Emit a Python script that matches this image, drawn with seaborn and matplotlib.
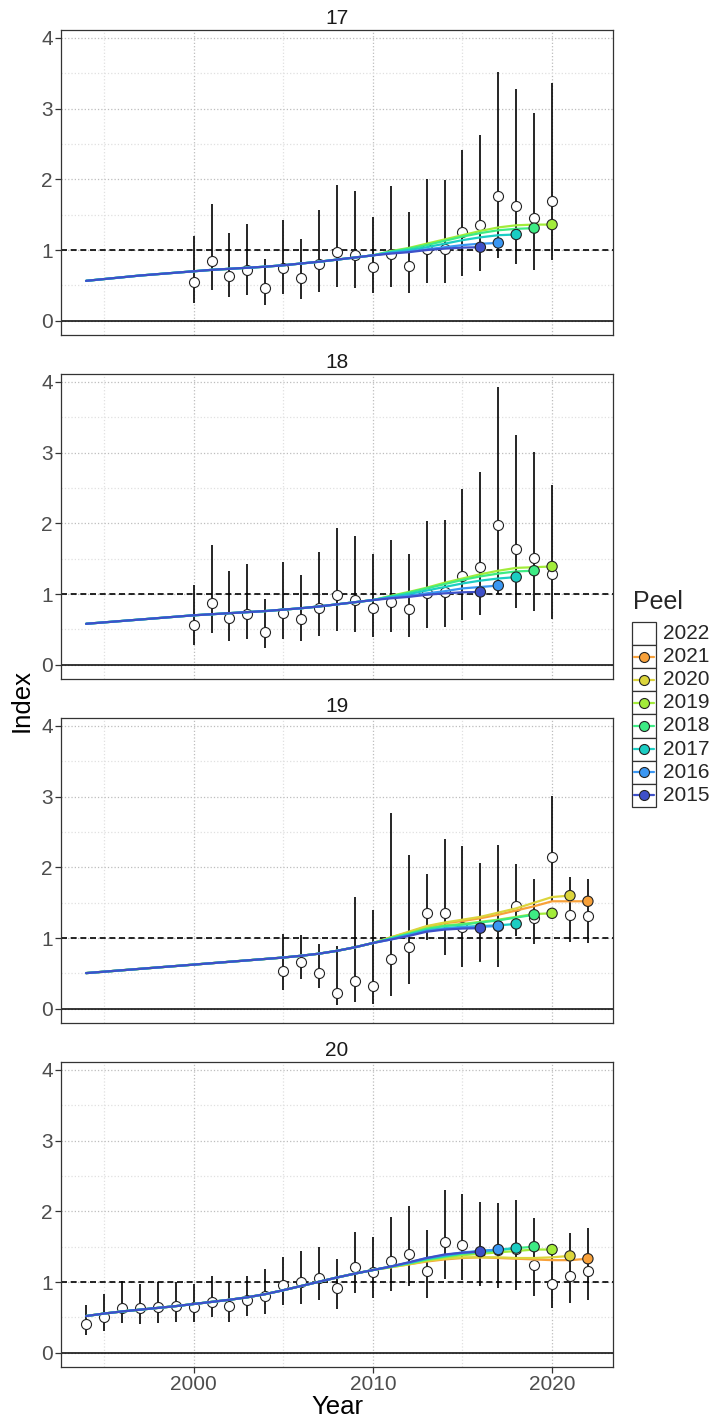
import numpy as np
import pandas as pd
import matplotlib
matplotlib.use("Agg")
import matplotlib.pyplot as plt
from matplotlib.patches import Rectangle
from matplotlib.lines import Line2D
import seaborn as sns

# ---------------------------------------------------------------
# Data
# ---------------------------------------------------------------
panels = ["17", "18", "19", "20"]
peels = [2022, 2021, 2020, 2019, 2018, 2017, 2016, 2015]
peel_colors = ["#FFFFFF", "#F8A13A", "#DCD53C", "#A2EC3A",
               "#3DEB84", "#1BCDC3", "#3A97F3", "#3E50C8"]

# observed index with confidence limits
obs_years_17 = list(range(2000, 2021))
obs_17 = [0.55, 0.85, 0.64, 0.72, 0.46, 0.74, 0.60, 0.80, 0.97, 0.93, 0.76,
          0.94, 0.78, 1.02, 1.02, 1.25, 1.36, 1.77, 1.62, 1.46, 1.69]
lo_17 = [0.245, 0.44, 0.33, 0.37, 0.23, 0.38, 0.31, 0.41, 0.48, 0.47, 0.39,
         0.48, 0.39, 0.53, 0.53, 0.64, 0.70, 0.89, 0.80, 0.72, 0.86]
hi_17 = [1.20, 1.65, 1.24, 1.37, 0.88, 1.43, 1.15, 1.56, 1.92, 1.84, 1.47,
         1.90, 1.54, 2.01, 1.99, 2.41, 2.63, 3.52, 3.28, 2.94, 3.36]

obs_years_18 = list(range(2000, 2021))
obs_18 = [0.56, 0.87, 0.66, 0.72, 0.47, 0.73, 0.65, 0.80, 0.98, 0.91, 0.80,
          0.89, 0.79, 1.02, 1.03, 1.26, 1.38, 1.97, 1.63, 1.51, 1.28]
lo_18 = [0.28, 0.45, 0.34, 0.36, 0.24, 0.37, 0.33, 0.41, 0.48, 0.46, 0.40,
         0.46, 0.40, 0.52, 0.53, 0.64, 0.70, 1.00, 0.81, 0.76, 0.65]
hi_18 = [1.13, 1.70, 1.32, 1.42, 0.93, 1.45, 1.27, 1.60, 1.94, 1.82, 1.57,
         1.77, 1.56, 2.03, 2.05, 2.48, 2.72, 3.92, 3.25, 3.01, 2.54]

obs_years_19 = list(range(2005, 2023))
obs_19 = [0.53, 0.66, 0.51, 0.22, 0.40, 0.32, 0.70, 0.87, 1.35, 1.35, 1.16,
          1.15, 1.17, 1.46, 1.29, 2.14, 1.33, 1.31]
lo_19 = [0.27, 0.42, 0.30, 0.06, 0.09, 0.07, 0.18, 0.35, 0.97, 0.76, 0.59,
         0.66, 0.59, 1.03, 0.92, 1.52, 0.94, 0.93]
hi_19 = [1.06, 1.04, 0.91, 0.89, 1.58, 1.40, 2.77, 2.18, 1.90, 2.40, 2.30,
         2.06, 2.31, 2.04, 1.83, 3.01, 1.87, 1.84]

obs_years_20 = list(range(1994, 2023))
obs_20 = [0.41, 0.51, 0.64, 0.63, 0.65, 0.66, 0.65, 0.72, 0.66, 0.75, 0.81,
          0.96, 1.00, 1.06, 0.91, 1.21, 1.14, 1.30, 1.40, 1.16, 1.56, 1.52,
          1.43, 1.45, 1.47, 1.24, 0.98, 1.09, 1.15]
lo_20 = [0.25, 0.31, 0.42, 0.41, 0.42, 0.44, 0.43, 0.50, 0.44, 0.52, 0.55,
         0.67, 0.69, 0.75, 0.62, 0.85, 0.78, 0.88, 0.94, 0.78, 1.05, 1.03,
         0.94, 0.92, 0.89, 0.80, 0.64, 0.71, 0.75]
hi_20 = [0.67, 0.83, 1.01, 0.98, 1.00, 1.00, 0.97, 1.08, 0.99, 1.08, 1.18,
         1.36, 1.44, 1.50, 1.32, 1.71, 1.64, 1.92, 2.07, 1.74, 2.30, 2.25,
         2.13, 2.12, 2.16, 1.90, 1.47, 1.69, 1.76]

# fitted trend: common part 1994-2010, then one tail per peel from 2011
fit_start = 1994
base_17 = [0.565, 0.59, 0.615, 0.64, 0.66, 0.68, 0.70, 0.72, 0.735, 0.75,
           0.765, 0.785, 0.81, 0.835, 0.865, 0.895, 0.925]
tail_17 = {
    2019: [0.985, 1.03, 1.09, 1.15, 1.21, 1.27, 1.32, 1.35, 1.36, 1.36],
    2018: [0.98, 1.02, 1.07, 1.13, 1.19, 1.24, 1.28, 1.30, 1.31],
    2017: [0.97, 1.00, 1.04, 1.09, 1.14, 1.18, 1.21, 1.22],
    2016: [0.96, 0.98, 1.01, 1.04, 1.07, 1.09, 1.10],
    2015: [0.95, 0.97, 1.00, 1.02, 1.035, 1.04],
}
base_18 = [0.58, 0.60, 0.62, 0.64, 0.66, 0.68, 0.70, 0.715, 0.73, 0.745,
           0.76, 0.78, 0.80, 0.825, 0.855, 0.885, 0.915]
tail_18 = {
    2019: [0.975, 1.03, 1.09, 1.16, 1.22, 1.28, 1.33, 1.37, 1.38, 1.39],
    2018: [0.97, 1.02, 1.08, 1.14, 1.20, 1.25, 1.29, 1.32, 1.33],
    2017: [0.96, 1.00, 1.05, 1.10, 1.15, 1.19, 1.22, 1.24],
    2016: [0.95, 0.975, 1.01, 1.04, 1.08, 1.10, 1.12],
    2015: [0.94, 0.96, 0.99, 1.01, 1.025, 1.03],
}
base_19 = [0.505, 0.525, 0.545, 0.565, 0.585, 0.605, 0.625, 0.645, 0.665,
           0.685, 0.705, 0.725, 0.75, 0.78, 0.82, 0.87, 0.93]
tail_19 = {
    2021: [1.01, 1.08, 1.16, 1.21, 1.24, 1.28, 1.33, 1.39, 1.45, 1.52, 1.52, 1.52],
    2020: [1.01, 1.09, 1.17, 1.22, 1.26, 1.30, 1.36, 1.42, 1.50, 1.58, 1.60],
    2019: [1.00, 1.07, 1.14, 1.18, 1.20, 1.23, 1.26, 1.30, 1.34, 1.35],
    2018: [1.00, 1.06, 1.13, 1.17, 1.19, 1.22, 1.25, 1.29, 1.33],
    2017: [0.99, 1.05, 1.11, 1.14, 1.16, 1.17, 1.18, 1.20],
    2016: [0.98, 1.04, 1.10, 1.13, 1.15, 1.16, 1.17],
    2015: [0.98, 1.03, 1.09, 1.12, 1.135, 1.14],
}
base_20 = [0.52, 0.555, 0.585, 0.61, 0.635, 0.66, 0.69, 0.72, 0.75, 0.785,
           0.83, 0.885, 0.945, 1.005, 1.065, 1.12, 1.17]
tail_20 = {
    2021: [1.21, 1.25, 1.29, 1.32, 1.34, 1.35, 1.34, 1.33, 1.32, 1.31, 1.31, 1.33],
    2020: [1.21, 1.25, 1.30, 1.33, 1.35, 1.35, 1.35, 1.34, 1.34, 1.35, 1.37],
    2019: [1.215, 1.26, 1.31, 1.35, 1.38, 1.40, 1.42, 1.44, 1.46, 1.46],
    2018: [1.215, 1.265, 1.32, 1.36, 1.40, 1.42, 1.45, 1.48, 1.50],
    2017: [1.22, 1.27, 1.33, 1.37, 1.41, 1.44, 1.46, 1.48],
    2016: [1.22, 1.275, 1.34, 1.38, 1.42, 1.44, 1.46],
    2015: [1.22, 1.28, 1.34, 1.39, 1.415, 1.43],
}

obs_sets = {
    "17": (obs_years_17, obs_17, lo_17, hi_17),
    "18": (obs_years_18, obs_18, lo_18, hi_18),
    "19": (obs_years_19, obs_19, lo_19, hi_19),
    "20": (obs_years_20, obs_20, lo_20, hi_20),
}
fit_sets = {"17": (base_17, tail_17), "18": (base_18, tail_18),
            "19": (base_19, tail_19), "20": (base_20, tail_20)}

palette = dict(zip(peels, peel_colors))

# ---------------------------------------------------------------
# Style
# ---------------------------------------------------------------
sns.set_style("white")
plt.rcParams["font.family"] = ["Liberation Sans", "DejaVu Sans"]

W, H = 713, 1422
DPI = 100
fig, axes = plt.subplots(4, 1, figsize=(W / DPI, H / DPI), dpi=DPI,
                         sharex=True, sharey=True)
fig.subplots_adjust(left=61 / W, right=613 / W, top=1 - 30 / H,
                    bottom=1 - 1367 / H, hspace=0.128)

grey = "#4D4D4D"

for ax, name in zip(axes, panels):
    yrs, val, lo, hi = obs_sets[name]
    base, tails = fit_sets[name]

    # fitted lines per peel (long table)
    rows = []
    ends = []
    for peel, tail in tails.items():
        series = base + tail
        for i, v in enumerate(series):
            rows.append((fit_start + i, v, peel))
        ends.append((fit_start + len(series) - 1, series[-1], peel))
    fits = pd.DataFrame(rows, columns=["Year", "Index", "Peel"])
    endpts = pd.DataFrame(ends, columns=["Year", "Index", "Peel"])
    order = [p for p in peels if p in tails]

    ax.axhline(0, color="black", lw=1.1, zorder=1.5)
    ax.axhline(1, color="black", lw=1.2, ls=(0, (3.6, 2.2)), zorder=1.5)

    ax.vlines(yrs, lo, hi, color="black", lw=1.2, zorder=2)
    obs_df = pd.DataFrame({"Year": yrs, "Index": val})
    sns.scatterplot(data=obs_df, x="Year", y="Index", ax=ax, color="white",
                    edgecolor="#222222", linewidth=0.8, s=52, zorder=3,
                    legend=False)

    sns.lineplot(data=fits, x="Year", y="Index", hue="Peel",
                 hue_order=order, palette=palette, estimator=None,
                 sort=False, lw=1.6, ax=ax, legend=False, zorder=4)

    sns.scatterplot(data=endpts, x="Year", y="Index", hue="Peel",
                    hue_order=order, palette=palette, edgecolor="#222222",
                    linewidth=0.8, s=55, ax=ax, legend=False, zorder=5)

    ax.set_title(name, fontsize=15, color="#1A1A1A", pad=4)
    ax.set_xlim(1992.6, 2023.4)
    ax.set_ylim(-0.2, 4.11)
    ax.set_xticks([2000, 2010, 2020])
    ax.set_xticks([1995, 2005, 2015], minor=True)
    ax.set_yticks([0, 1, 2, 3, 4])
    ax.set_yticks([0.5, 1.5, 2.5, 3.5], minor=True)
    ax.grid(True, which="major", ls=":", color="#BDBDBD", lw=0.9)
    ax.grid(True, which="minor", ls=":", color="#E0E0E0", lw=0.9)
    ax.set_axisbelow(True)
    for sp in ax.spines.values():
        sp.set_color("#333333")
        sp.set_linewidth(0.9)
    ax.tick_params(which="major", direction="out", length=4, width=0.9,
                   color="#333333", labelcolor=grey, labelsize=15, pad=2)
    ax.tick_params(which="minor", length=0)
    ax.tick_params(axis="x", which="major", bottom=True)
    ax.tick_params(axis="y", which="major", left=True)
    ax.set_xlabel("")
    ax.set_ylabel("")

for ax in axes[:-1]:
    ax.tick_params(axis="x", which="both", bottom=False, labelbottom=False)

fig.text(337 / W, 1 - 1407 / H, "Year", ha="center", va="center",
         fontsize=18.5, color="black")
fig.text(22 / W, 1 - 700 / H, "Index", ha="center", va="center",
         rotation=90, fontsize=18.5, color="black")

# ---------------------------------------------------------------
# Legend (drawn in figure pixel coordinates)
# ---------------------------------------------------------------
def fx(px):
    return px / W


def fy(py):
    return 1 - py / H


fig.text(fx(633), fy(602), "Peel", ha="left", va="center", fontsize=18)
box_l, box_r = 632, 656
box_top, box_h = 622, 23.1
for i, (peel, col) in enumerate(zip(peels, peel_colors)):
    top = box_top + i * box_h
    fig.add_artist(Rectangle((fx(box_l), fy(top + box_h)),
                             fx(box_r) - fx(box_l), fy(top) - fy(top + box_h),
                             transform=fig.transFigure, facecolor="white",
                             edgecolor="#333333", lw=0.9))
    cy = fy(top + box_h / 2)
    if peel != 2022:
        fig.add_artist(Line2D([fx(box_l + 2), fx(box_r - 2)], [cy, cy],
                              transform=fig.transFigure, color=col, lw=1.6))
        fig.add_artist(Line2D([fx((box_l + box_r) / 2)], [cy],
                              transform=fig.transFigure, marker="o",
                              markersize=7.2, markerfacecolor=col,
                              markeredgecolor="#222222", markeredgewidth=0.8,
                              lw=0))
    fig.text(fx(663), cy, str(peel), ha="left", va="center", fontsize=15)

fig.savefig("out.png", dpi=DPI)
